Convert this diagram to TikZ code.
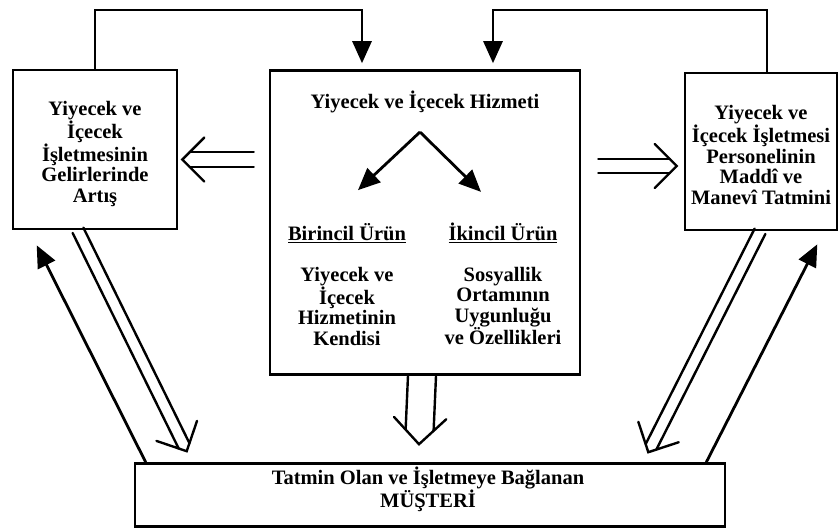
\documentclass[tikz,border=0pt]{standalone}
\usepackage{fontspec}
\setmainfont{Liberation Serif}
\usetikzlibrary{calc,arrows.meta}
\newcommand{\dblarrow}[4]{%
  \path (#1) coordinate (dA) (#2) coordinate (dB);
  \coordinate (dE) at ($(dB)!#3!(dA)$);
  \draw[dblline] ($(dA)!#3!90:(dB)$) -- ($(dE)!#3!-90:(dA)$);
  \draw[dblline] ($(dA)!#3!-90:(dB)$) -- ($(dE)!#3!90:(dA)$);
  \draw[dblline] ($(dB)!#4!45:(dA)$) -- (dB) -- ($(dB)!#4!-45:(dA)$);
}
\begin{document}
\begin{tikzpicture}[x=1pt,y=-1pt,
  box/.style={draw, line width=2.6pt, inner sep=0pt},
  txt/.style={inner sep=0pt, align=center, font=\txtfont},
  conn/.style={line width=2.6pt},
  sarrow/.style={line width=2.8pt, -{Triangle[length=22pt,width=19pt]}},
  dblline/.style={line width=2.4pt, line cap=round, line join=miter}]
\newcommand{\txtfont}{\fontsize{20.5}{20.5}\selectfont\bfseries}
\useasboundingbox (0,0) rectangle (840,528);
% boxes
\node[box, minimum width=164pt, minimum height=159pt] (L) at (95,149.5) {};
\node[txt] (Lt) at (95,154) {Yiyecek ve\\İçecek\\İşletmesinin\\Gelirlerinde\\Artış};
\node[box, minimum width=310pt, minimum height=304pt] (C) at (425,222.5) {};
\node[box, minimum width=152pt, minimum height=157pt] (R) at (761,151.5) {};
\node[txt] (Rt) at (761,155) {Yiyecek ve\\İçecek İşletmesi\\Personelinin\\Maddî ve\\Manevî Tatmini};
\node[box, minimum width=590pt, minimum height=63pt] (B) at (430,495) {};
\node[txt] (Bt) at (428,489) {Tatmin Olan ve İşletmeye Bağlanan\\MÜŞTERİ};
% inside centre box
\node[txt] (Ct) at (425,102) {Yiyecek ve İçecek Hizmeti};
\node[txt] (P1) at (347,233) {\underline{Birincil Ürün}};
\node[txt] (P2) at (503,233) {\underline{İkincil Ürün}};
\node[txt] (D1) at (347,306) {Yiyecek ve\\İçecek\\Hizmetinin\\Kendisi};
\node[txt] (D2) at (503,306) {Sosyallik\\Ortamının\\Uygunluğu\\ve Özellikleri};
\coordinate (ap) at ([xshift=-5pt,yshift=-30pt]Ct.center);
\draw[sarrow] (ap) -- ([xshift=11pt,yshift=33pt]P1.north);
\draw[sarrow] (ap) -- ([xshift=-22pt,yshift=31pt]P2.north);
% top feedback connectors
\draw[conn] (L.north) |- (362,10) -- (362,40);
\draw[sarrow] (362,10) -- ([xshift=-63pt,yshift=6pt]C.north);
\draw[conn] ([xshift=6pt]R.north) |- (493,10) -- (493,40);
\draw[sarrow] (493,10) -- ([xshift=68pt,yshift=6pt]C.north);
% double (open) arrows
\coordinate (tL) at ([xshift=4pt,yshift=-10pt]L.east);
\coordinate (sL) at ([xshift=-15pt]C.west |- tL);
\dblarrow{sL}{tL}{7.5pt}{31pt}
\coordinate (tR) at ([xshift=-7pt,yshift=-14.5pt]R.west);
\coordinate (sR) at ([xshift=17pt]C.east |- tR);
\dblarrow{sR}{tR}{7pt}{31pt}
\coordinate (sD) at ([xshift=-3pt]C.south);
\coordinate (tD) at ([xshift=-11pt,yshift=18pt]B.north);
\dblarrow{sD}{tD}{14pt}{37pt}
\coordinate (sLD) at ([xshift=-17pt]L.south);
\coordinate (tLD) at ([xshift=53pt,yshift=11pt]B.north west);
\dblarrow{sLD}{tLD}{6pt}{32pt}
\coordinate (sRD) at ([xshift=-1pt]R.south);
\coordinate (tRD) at ([xshift=-78pt,yshift=10pt]B.north east);
\dblarrow{sRD}{tRD}{6pt}{32pt}
% single return arrows
\draw[sarrow] ([xshift=12pt]B.north west) -- ([xshift=25pt,yshift=-15pt]L.south west);
\draw[sarrow] ([xshift=-20pt]B.north east) -- ([xshift=-21pt,yshift=-13pt]R.south east);
\end{tikzpicture}
\end{document}
